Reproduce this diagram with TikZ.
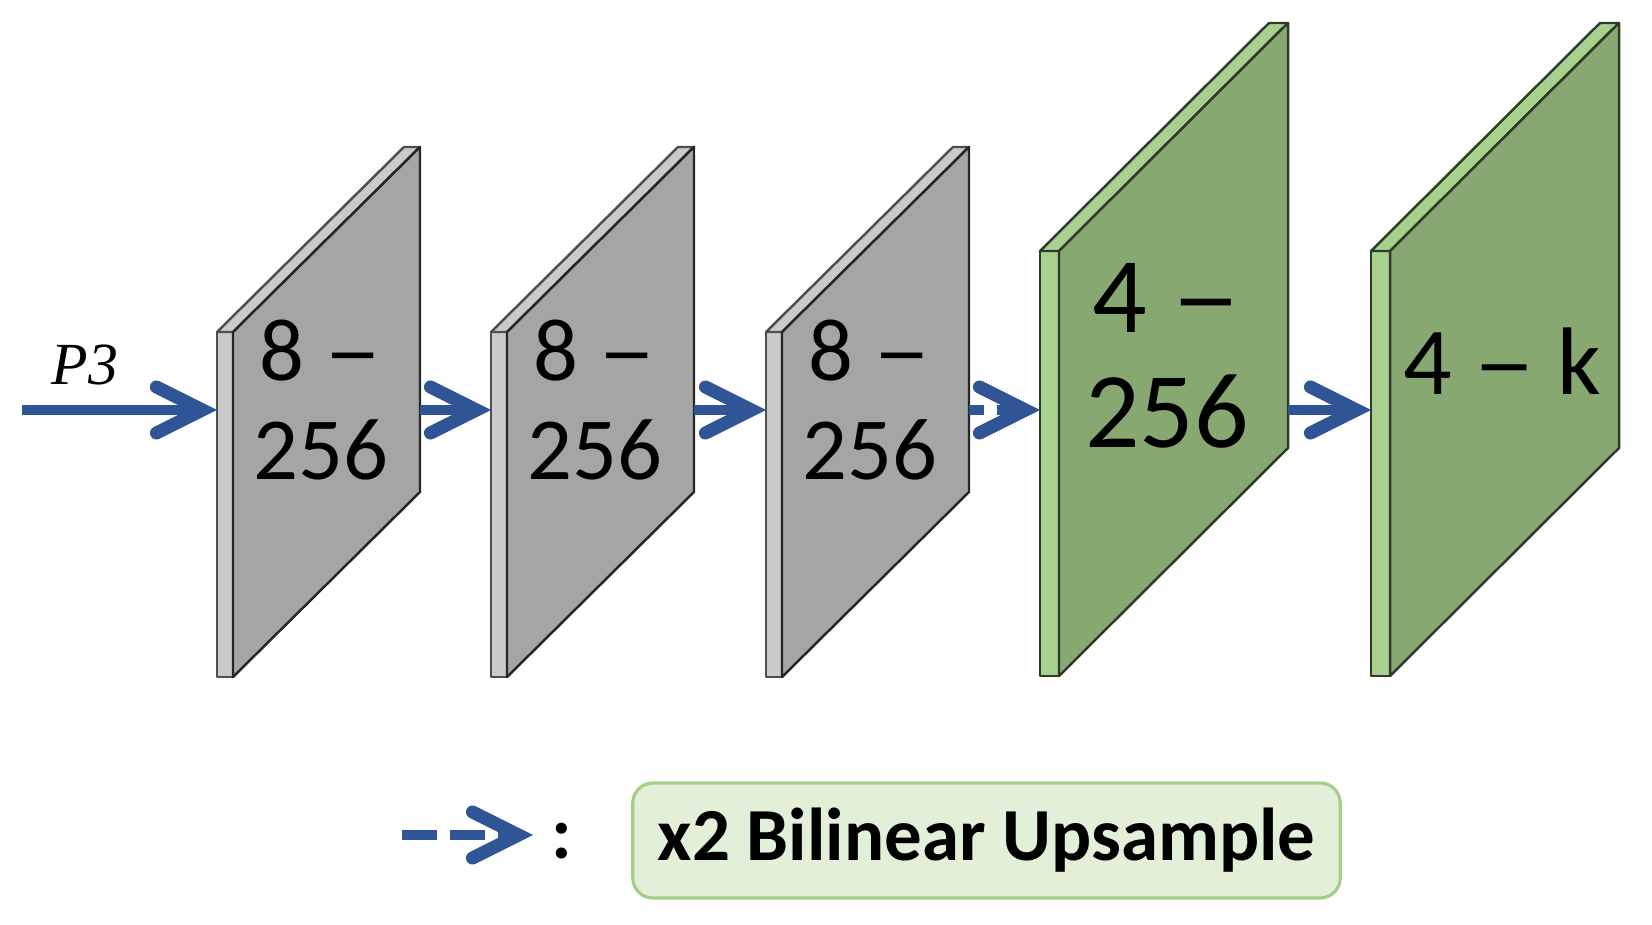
\documentclass[tikz,border=0pt]{standalone}
\usepackage{graphicx}
\usepackage{fontspec}
\setmainfont{Carlito}
\newfontfamily\serifit{Liberation Serif}
\usetikzlibrary{arrows.meta}
\definecolor{flowblue}{HTML}{2F5597}
\definecolor{grayface}{HTML}{A5A5A5}
\definecolor{graystrip}{HTML}{CACACA}
\definecolor{grayedge}{HTML}{4F4F4F}
\definecolor{greenface}{HTML}{88A872}
\definecolor{greenstrip}{HTML}{A9D18E}
\definecolor{greenedge}{HTML}{2F3A2A}
\definecolor{legendfill}{HTML}{E2F0D9}
\definecolor{legendline}{HTML}{A3CF86}
\newcommand{\longdash}{\scalebox{1.3}[1]{–}}

\begin{document}
\begin{tikzpicture}[x=0.01cm,y=-0.01cm,
  flow/.style={draw=flowblue,line width=0.1cm,
    -{Straight Barb[length=0.46cm,width=0.46cm,line width=0.13cm,line cap=round]}},
  upsample/.style={flow,dash pattern=#1},
  edge/.style={line width=0.7pt,line join=round},
  graytext/.style={align=center,font=\fontsize{25.2}{28}\selectfont},
  legendbox/.style={draw=legendline,fill=legendfill,line width=0.9pt,
    rounded corners=0.2cm,minimum width=7.07cm,minimum height=1.15cm,
    font=\bfseries\fontsize{21.3}{25}\selectfont}]

  \useasboundingbox (0,0) rectangle (1652,925);

  \foreach \xp/\nm in {217/m1,491/m2,766/m3}{
    \filldraw[edge,draw=grayedge,fill=graystrip] (\xp,332) rectangle (\xp+16,677);
    \filldraw[edge,draw=grayedge,fill=graystrip]
      (\xp,332) -- (\xp+187,147) -- (\xp+203,147) -- (\xp+16,332) -- cycle;
    \filldraw[edge,draw=black!85,fill=grayface]
      (\xp+16,332) -- (\xp+203,147) -- (\xp+203,492) -- (\xp+16,677) -- cycle;
    \coordinate (\nm-in) at (\xp,410);
    \coordinate (\nm-out) at (\xp+203,410);
    \node[graytext] (\nm-label) at (\xp+104,400) {8 \longdash\\256};
  }

  \foreach \xp/\nm in {1040/m4,1371/m5}{
    \filldraw[edge,draw=greenedge,fill=greenstrip] (\xp,251) rectangle (\xp+19,676);
    \filldraw[edge,draw=greenedge,fill=greenstrip]
      (\xp,251) -- (\xp+229,23) -- (\xp+248,23) -- (\xp+19,251) -- cycle;
    \filldraw[edge,draw=greenedge,fill=greenface]
      (\xp+19,251) -- (\xp+248,23) -- (\xp+248,448) -- (\xp+19,676) -- cycle;
    \coordinate (\nm-in) at (\xp,410);
    \coordinate (\nm-out) at (\xp+248,410);
  }

  \node[align=center,font=\fontsize{30.6}{32.7}\selectfont] (m4-label)
    at (1167,356) {4 \longdash\\256};
  \node[anchor=base,font=\fontsize{27.3}{30}\selectfont] (m5-label)
    at (1502,395) {4 \longdash{} k};

  \node[font=\serifit\itshape\fontsize{17}{20}\selectfont] (p3) at (85,365) {P3};
  \coordinate (p3-in) at (22,410);

  \draw[flow] (p3-in) -- (m1-in);
  \draw[flow] (m1-out) -- (m2-in);
  \draw[flow] (m2-out) -- (m3-in);
  \draw[upsample={on 0.15cm off 0.13cm}] (m3-out) -- (m4-in);
  \draw[flow] (m4-out) -- (m5-in);

  \coordinate (leg-start) at (402,835);
  \coordinate (leg-tip) at (533,835);
  \draw[upsample={on 0.35cm off 0.13cm}] (leg-start) -- (leg-tip);
  \node[anchor=base,font=\bfseries\fontsize{21.3}{25}\selectfont] (leg-colon)
    at (562,858) {:};
  \node[legendbox] (leg-box) at (986.5,840.5) {x2 Bilinear Upsample};

\end{tikzpicture}
\end{document}
